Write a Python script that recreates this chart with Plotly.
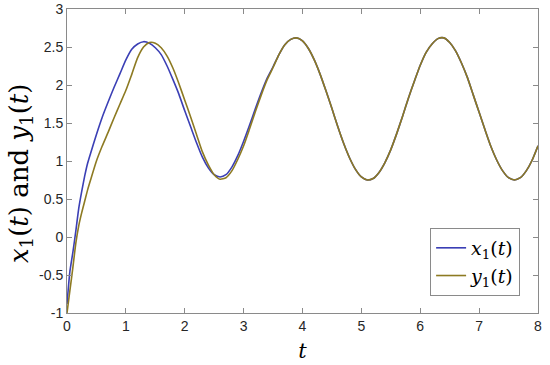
import plotly.graph_objects as go

# time samples (non-uniform near the start)
t = [0.0, 0.05, 0.1, 0.15, 0.2, 0.25, 0.3, 0.35, 0.4, 0.5, 0.6, 0.7, 0.8, 0.9,
     1.0, 1.1, 1.2, 1.3, 1.4, 1.5, 1.6, 1.7, 1.8, 1.9, 2.0, 2.1, 2.2, 2.3, 2.4,
     2.5, 2.6, 2.7, 2.8, 2.9, 3.0, 3.1, 3.2, 3.3, 3.4, 3.5, 3.6, 3.7, 3.8, 3.9,
     4.0, 4.1, 4.2, 4.3, 4.4, 4.5, 4.6, 4.7, 4.8, 4.9, 5.0, 5.1, 5.2, 5.3, 5.4,
     5.5, 5.6, 5.7, 5.8, 5.9, 6.0, 6.1, 6.2, 6.3, 6.4, 6.5, 6.6, 6.7, 6.8, 6.9,
     7.0, 7.1, 7.2, 7.3, 7.4, 7.5, 7.6, 7.7, 7.8, 7.9, 8.0]

x1 = [-0.88, -0.45, -0.2, 0.08, 0.38, 0.6, 0.8, 0.97, 1.1, 1.35, 1.58, 1.78, 1.97, 2.15,
      2.33, 2.47, 2.54, 2.57, 2.55, 2.49, 2.40, 2.25, 2.07, 1.88, 1.66, 1.45, 1.24, 1.05, 0.91,
      0.82, 0.79, 0.82, 0.92, 1.07, 1.26, 1.47, 1.69, 1.90, 2.09, 2.24, 2.40, 2.53, 2.60, 2.62,
      2.58, 2.48, 2.33, 2.14, 1.92, 1.69, 1.45, 1.23, 1.04, 0.89, 0.79, 0.75, 0.77, 0.85, 0.98,
      1.15, 1.36, 1.59, 1.83, 2.05, 2.26, 2.43, 2.54, 2.61, 2.62, 2.56, 2.45, 2.29, 2.10, 1.87,
      1.64, 1.41, 1.19, 1.01, 0.87, 0.78, 0.75, 0.78, 0.87, 1.01, 1.20]

y1 = [-1.0, -0.7, -0.4, -0.08, 0.15, 0.32, 0.47, 0.62, 0.75, 1.0, 1.2, 1.38, 1.57, 1.75,
      1.93, 2.14, 2.36, 2.50, 2.56, 2.55, 2.49, 2.38, 2.22, 2.02, 1.80, 1.58, 1.35, 1.12, 0.95,
      0.82, 0.76, 0.78, 0.87, 1.02, 1.20, 1.42, 1.65, 1.87, 2.07, 2.23, 2.40, 2.53, 2.60, 2.62,
      2.58, 2.48, 2.33, 2.14, 1.92, 1.69, 1.45, 1.23, 1.04, 0.89, 0.79, 0.75, 0.77, 0.85, 0.98,
      1.15, 1.36, 1.59, 1.83, 2.05, 2.26, 2.43, 2.54, 2.61, 2.62, 2.56, 2.45, 2.29, 2.10, 1.87,
      1.64, 1.41, 1.19, 1.01, 0.87, 0.78, 0.75, 0.78, 0.87, 1.01, 1.20]

x_ticks = [0, 1, 2, 3, 4, 5, 6, 7, 8]
y_ticks = [-1, -0.5, 0, 0.5, 1, 1.5, 2, 2.5, 3]
y_tick_labels = ["-1", "-0.5", "0", "0.5", "1", "1.5", "2", "2.5", "3"]

BLUE = "#3b3fb5"
OLIVE = "#8d7a22"
SERIF = "DejaVu Serif, Liberation Serif, serif"

fig = go.Figure()
fig.add_trace(go.Scatter(x=t, y=x1, mode="lines", line=dict(color=BLUE, width=1.6, shape="spline", smoothing=0.6),
                         name="<i>x</i><sub>1</sub>(<i>t</i>)"))
fig.add_trace(go.Scatter(x=t, y=y1, mode="lines", line=dict(color=OLIVE, width=1.6, shape="spline", smoothing=0.6),
                         name="<i>y</i><sub>1</sub>(<i>t</i>)"))

axis_common = dict(showline=True, linecolor="#8a8a8a", linewidth=1, mirror="ticks",
                   ticks="inside", ticklen=5, tickcolor="#8a8a8a", showgrid=False, zeroline=False,
                   automargin=False,
                   tickfont=dict(family="Liberation Sans, Arial, sans-serif", size=14, color="#262626"))

fig.update_xaxes(range=[0, 8], tickvals=x_ticks, ticktext=[str(v) for v in x_ticks],
                 title=dict(text="<i>t</i>", font=dict(family=SERIF, size=21, color="#000"), standoff=10),
                 **axis_common)
fig.update_yaxes(range=[-1, 3], tickvals=y_ticks, ticktext=y_tick_labels, **axis_common)

fig.add_annotation(
    text="<i>x</i><sub>1</sub>(<i>t</i>) and <i>y</i><sub>1</sub>(<i>t</i>)",
    xref="paper", yref="paper", x=-0.1, y=0.46, xanchor="center", yanchor="middle",
    textangle=-90, showarrow=False,
    font=dict(family=SERIF, size=26, color="#000"),
)

fig.update_layout(
    width=550, height=365,
    margin=dict(l=67, r=12, t=9, b=52),
    plot_bgcolor="white", paper_bgcolor="white",
    legend=dict(x=0.962, y=0.056, xanchor="right", yanchor="bottom",
                bgcolor="white", bordercolor="#8a8a8a", borderwidth=1,
                font=dict(family=SERIF, size=19, color="#000"),
                itemwidth=30, tracegroupgap=0),
    showlegend=True,
)

fig.write_html("out.html", config={"displayModeBar": False},
               post_script="document.body.style.margin='0';")
